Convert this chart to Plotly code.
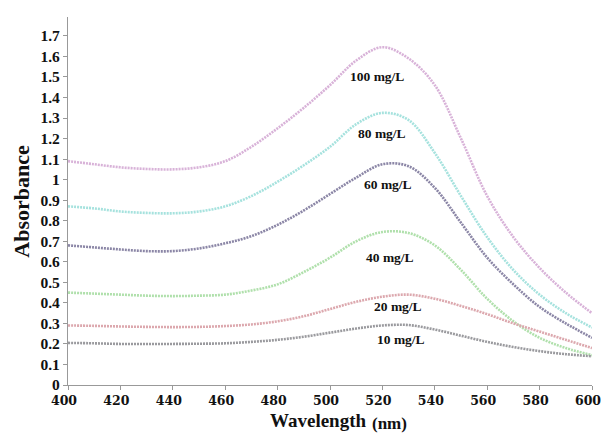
import plotly.graph_objects as go

wavelength = [400, 410, 420, 430, 440, 450, 460, 470, 480, 490, 500,
              510, 520, 530, 540, 550, 560, 570, 580, 590, 600]

a100 = [1.09, 1.075, 1.06, 1.052, 1.05, 1.06, 1.09, 1.16, 1.25, 1.35, 1.46,
        1.58, 1.645, 1.59, 1.46, 1.20, 0.92, 0.72, 0.57, 0.45, 0.35]
a80 = [0.87, 0.86, 0.845, 0.838, 0.836, 0.845, 0.87, 0.92, 0.99, 1.07, 1.16,
       1.27, 1.325, 1.29, 1.13, 0.92, 0.72, 0.56, 0.44, 0.35, 0.28]
a60 = [0.68, 0.67, 0.66, 0.652, 0.652, 0.665, 0.69, 0.725, 0.78, 0.85, 0.93,
       1.01, 1.075, 1.065, 0.96, 0.79, 0.62, 0.49, 0.38, 0.30, 0.23]
a40 = [0.45, 0.445, 0.44, 0.435, 0.433, 0.435, 0.44, 0.46, 0.49, 0.55, 0.62,
       0.70, 0.745, 0.74, 0.68, 0.56, 0.42, 0.31, 0.23, 0.18, 0.145]
a20 = [0.29, 0.288, 0.285, 0.283, 0.282, 0.283, 0.287, 0.295, 0.31, 0.335, 0.37,
       0.405, 0.43, 0.44, 0.42, 0.385, 0.345, 0.30, 0.26, 0.22, 0.18]
a10 = [0.205, 0.203, 0.20, 0.20, 0.20, 0.201, 0.203, 0.21, 0.22, 0.235, 0.255,
       0.275, 0.29, 0.292, 0.27, 0.24, 0.21, 0.185, 0.165, 0.15, 0.14]

series_names = ["100 mg/L", "80 mg/L", "60 mg/L", "40 mg/L", "20 mg/L", "10 mg/L"]
series_values = [a100, a80, a60, a40, a20, a10]
series_colors = ["#d8b2d8", "#a6e2de", "#8b86a6", "#b0e0ac", "#dca8ae", "#9a9a9e"]

label_x = [518, 520, 522, 523, 526, 527]
label_y = [1.50, 1.225, 0.975, 0.62, 0.38, 0.22]

x_ticks = list(range(400, 601, 20))
y_ticks = [round(i * 0.1, 1) for i in range(0, 18)]

fig = go.Figure()
for name, vals, col in zip(series_names, series_values, series_colors):
    fig.add_trace(go.Scatter(
        x=wavelength, y=vals, mode="lines", name=name,
        line=dict(color=col, width=2.6, dash="2px,1px", shape="spline", smoothing=1.0),
        showlegend=False,
    ))

for name, lx, ly in zip(series_names, label_x, label_y):
    fig.add_annotation(x=lx, y=ly, text="<b>" + name + "</b>", showarrow=False,
                       font=dict(family="Liberation Serif", size=13.5, color="#111"))

# axis titles
fig.add_annotation(xref="paper", yref="paper", x=0.478, y=0, yanchor="middle",
                   yshift=-35, text="<b>Wavelength</b>", showarrow=False,
                   font=dict(family="Liberation Serif", size=19, color="#111"))
fig.add_annotation(xref="paper", yref="paper", x=0.613, y=0, yanchor="middle",
                   yshift=-38, text="<b>(nm)</b>", showarrow=False,
                   font=dict(family="Liberation Serif", size=17, color="#111"))
fig.add_annotation(xref="paper", yref="paper", x=0, y=0.498, xanchor="center",
                   yanchor="middle", xshift=-46, textangle=-90,
                   text="<b>Absorbance</b>", showarrow=False,
                   font=dict(family="Liberation Serif", size=22, color="#111"))

fig.update_layout(
    width=601, height=434,
    margin=dict(l=68, r=9, t=17, b=49, autoexpand=False),
    paper_bgcolor="white", plot_bgcolor="white",
    font=dict(family="Liberation Serif", color="#111"),
)
fig.update_xaxes(
    range=[400, 600], tickvals=x_ticks,
    ticktext=["<b>%d</b>" % v for v in x_ticks],
    ticks="outside", ticklen=4, tickcolor="#999",
    showline=True, linecolor="#999", linewidth=1.2,
    showgrid=False, zeroline=False, automargin=False,
    ticklabeloverflow="allow", ticklabelshift=-4,
    tickfont=dict(family="DejaVu Serif", size=12.5, color="#111"),
)
fig.update_yaxes(
    range=[0, 1.792], tickvals=y_ticks,
    ticktext=["<b>%g</b>" % v for v in y_ticks],
    ticks="outside", ticklen=4, tickcolor="#999",
    showline=True, linecolor="#999", linewidth=1.2,
    showgrid=False, zeroline=False, automargin=False,
    ticklabeloverflow="allow",
    tickfont=dict(family="Liberation Serif", size=15.5, color="#111"),
)

fig.write_html("out.html", config={"displayModeBar": False},
               post_script="document.body.style.margin='0';document.body.style.overflow='hidden';")
